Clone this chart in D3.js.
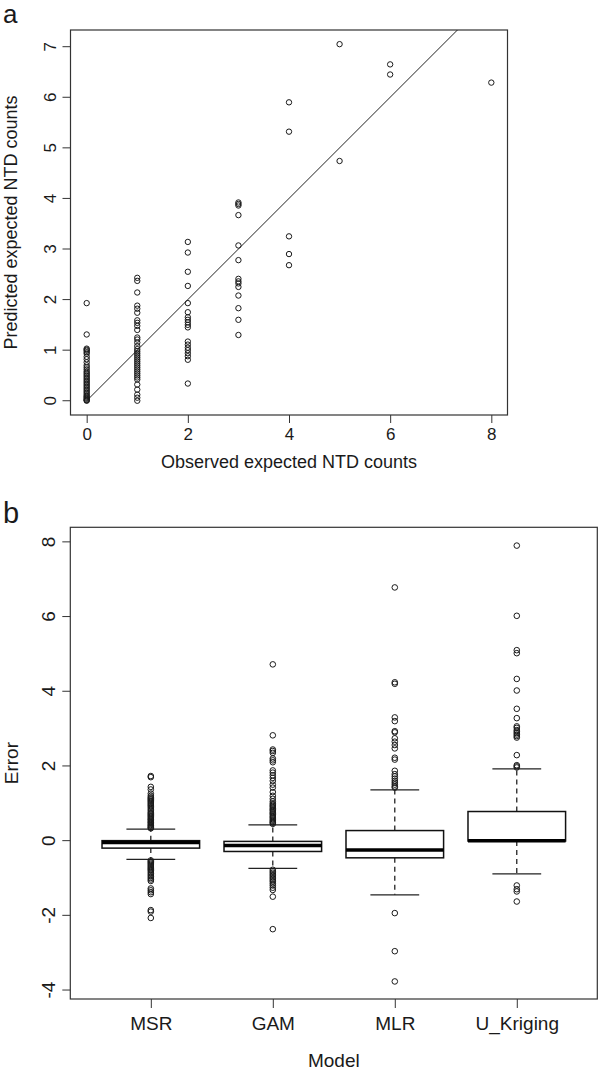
<!DOCTYPE html>
<html><head><meta charset="utf-8">
<script src="https://cdn.jsdelivr.net/npm/d3@7"></script>
<style>
html,body{margin:0;padding:0;background:#fff;}
svg{display:block;}
text{font-family:"Liberation Sans",Arial,Helvetica,sans-serif;fill:#1a1a1a;}
</style></head>
<body>
<svg id="chart" width="600" height="1073"></svg>
<script>
// ---------- Panel a data ----------
const obsX0 = [1.93,1.31,1.03,1.01,0.99,0.96,0.93,0.87,0.82,0.76,0.70,0.66,0.62,0.58,0.55,0.52,0.49,0.46,0.43,0.40,0.37,0.34,0.31,0.28,0.25,0.22,0.19,0.16,0.13,0.10,0.08,0.06,0.04,0.02,0.01,0.00];
const obsX1 = [2.43,2.37,2.14,1.88,1.82,1.74,1.59,1.54,1.48,1.40,1.25,1.21,1.15,1.08,1.02,0.98,0.94,0.90,0.86,0.82,0.78,0.74,0.70,0.66,0.62,0.58,0.54,0.50,0.46,0.42,0.32,0.22,0.12,0.06,0.00];
const obsX2 = [3.14,2.93,2.55,2.27,1.93,1.75,1.65,1.60,1.55,1.50,1.45,1.17,1.11,1.05,1.00,0.94,0.88,0.81,0.34];
const obsX3 = [3.92,3.89,3.86,3.67,3.07,2.78,2.41,2.36,2.32,2.25,2.08,1.83,1.60,1.30];
const obsX4 = [5.90,5.32,3.25,2.90,2.68];
const obsX5 = [7.05,4.74];
const obsX6 = [6.65,6.45];
const obsX8 = [6.29];
const observedGroups = [0,1,2,3,4,5,6,8];
const predictedGroups = [obsX0,obsX1,obsX2,obsX3,obsX4,obsX5,obsX6,obsX8];
const refLine = [[0,0],[8,8]];
const aXTicks = [0,2,4,6,8];
const aYTicks = [0,1,2,3,4,5,6,7];

// ---------- Panel b data ----------
const models = ["MSR","GAM","MLR","U_Kriging"];
const lowerWhisker = [-0.50,-0.74,-1.45,-0.89];
const quartile1   = [-0.20,-0.29,-0.46,-0.01];
const medians     = [-0.05,-0.13,-0.25, 0.00];
const quartile3   = [ 0.00,-0.02, 0.27, 0.78];
const upperWhisker= [ 0.31, 0.42, 1.36, 1.92];
const outMSR = [0.33,0.35,0.37,0.40,0.42,0.45,0.48,0.50,0.53,0.56,0.58,0.61,0.64,0.67,0.70,0.73,0.76,0.80,0.84,0.88,0.92,0.95,0.98,1.01,1.04,1.07,1.10,1.13,1.16,1.20,1.26,1.37,1.44,1.70,1.73,
  -0.53,-0.56,-0.59,-0.62,-0.65,-0.68,-0.71,-0.74,-0.77,-0.80,-0.84,-0.88,-0.92,-0.96,-1.00,-1.04,-1.08,-1.28,-1.33,-1.38,-1.43,-1.86,-1.90,-2.07];
const outGAM = [0.45,0.48,0.50,0.53,0.56,0.60,0.63,0.66,0.70,0.73,0.76,0.80,0.83,0.86,0.90,0.93,0.96,1.00,1.05,1.12,1.20,1.30,1.42,1.50,1.60,1.68,1.75,1.82,1.88,2.10,2.15,2.20,2.35,2.40,2.44,2.82,4.72,
  -0.78,-0.82,-0.86,-0.90,-0.94,-0.98,-1.02,-1.06,-1.10,-1.15,-1.20,-1.26,-1.32,-1.50,-2.37];
const outMLR = [1.42,1.45,1.50,1.55,1.60,1.66,1.72,1.78,1.87,2.17,2.22,2.47,2.56,2.65,2.74,2.90,2.93,3.20,3.30,4.20,4.24,6.78,-1.94,-2.96,-3.77];
const outUK  = [1.96,1.99,2.02,2.29,2.76,2.80,2.84,2.88,2.92,2.96,3.02,3.06,3.28,3.53,4.02,4.33,5.02,5.10,6.02,7.90,-1.20,-1.30,-1.36,-1.63];
const outliers = [outMSR,outGAM,outMLR,outUK];
const bYTicks = [-4,-2,0,2,4,6,8];

const svg = d3.select("#chart");
const frameColor = "#333";

// ================= Panel a =================
const aBox = {l:70.5, r:507.5, t:30, b:415};
const ax = d3.scaleLinear().domain([-0.32, 8.32]).range([aBox.l, aBox.r]);
const ay = d3.scaleLinear().domain([-0.282, 7.33]).range([aBox.b, aBox.t]);

svg.append("text").attr("x",3).attr("y",23).style("font-size","26px").text("a");

const ga = svg.append("g");
ga.append("defs").append("clipPath").attr("id","clipA").append("rect")
  .attr("x",aBox.l).attr("y",aBox.t).attr("width",aBox.r-aBox.l).attr("height",aBox.b-aBox.t);

// x axis
const axX = ga.append("g").attr("transform",`translate(0,${aBox.b})`)
  .call(d3.axisBottom(ax).tickValues(aXTicks).tickSize(8).tickPadding(5).tickFormat(d3.format("d")));
axX.select(".domain").remove();
axX.selectAll("line").attr("stroke",frameColor);
axX.selectAll("text").style("font-size","17px").attr("fill","#1a1a1a");
// y axis
const axY = ga.append("g").attr("transform",`translate(${aBox.l},0)`)
  .call(d3.axisLeft(ay).tickValues(aYTicks).tickSize(8).tickFormat(d3.format("d")));
axY.select(".domain").remove();
axY.selectAll("line").attr("stroke",frameColor);
axY.selectAll("text").attr("x",null).attr("dy",null)
  .style("font-size","17px").attr("text-anchor","middle")
  .attr("transform",d=>`translate(-20,${ay(d)}) rotate(-90)`).attr("y",0).attr("dy","0.35em");
axY.selectAll(".tick").attr("transform",null);
axY.selectAll(".tick line").attr("transform",d=>`translate(0,${ay(d)})`);

ga.append("rect").attr("x",aBox.l).attr("y",aBox.t).attr("width",aBox.r-aBox.l).attr("height",aBox.b-aBox.t)
  .attr("fill","none").attr("stroke",frameColor).attr("stroke-width",1.2);

// reference line
ga.append("path").datum(refLine).attr("clip-path","url(#clipA)")
  .attr("d",d3.line().x(d=>ax(d[0])).y(d=>ay(d[1])))
  .attr("fill","none").attr("stroke","#222").attr("stroke-width",1);

// points
const ptsA = [];
observedGroups.forEach((g,i)=>predictedGroups[i].forEach(v=>ptsA.push([g,v])));
ga.selectAll("circle.pa").data(ptsA).join("circle").attr("class","pa")
  .attr("cx",d=>ax(d[0])).attr("cy",d=>ay(d[1])).attr("r",2.7)
  .attr("fill","none").attr("stroke","#1a1a1a").attr("stroke-width",1);

ga.append("text").attr("x",(aBox.l+aBox.r)/2 + 0).attr("y",468).attr("text-anchor","middle")
  .style("font-size","18px").text("Observed expected NTD counts");
ga.append("text").attr("transform",`translate(17,${(aBox.t+aBox.b)/2 + 0}) rotate(-90)`).attr("text-anchor","middle")
  .style("font-size","18px").text("Predicted expected NTD counts");

// ================= Panel b =================
const bBox = {l:70.3, r:597.3, t:527.3, b:999};
const bx = d3.scaleLinear().domain([0.34, 4.66]).range([bBox.l, bBox.r]);
const by = d3.scaleLinear().domain([-4.24, 8.39]).range([bBox.b, bBox.t]);
const boxHalf = 0.4, stapleHalf = 0.2;

svg.append("text").attr("x",3).attr("y",523).style("font-size","29px").text("b");

const gb = svg.append("g");
const bxAxis = gb.append("g").attr("transform",`translate(0,${bBox.b})`)
  .call(d3.axisBottom(bx).tickValues([1,2,3,4]).tickSize(9).tickPadding(9).tickFormat((d,i)=>models[i]));
bxAxis.select(".domain").remove();
bxAxis.selectAll("line").attr("stroke",frameColor);
bxAxis.selectAll("text").style("font-size","19px").attr("fill","#1a1a1a");

const byAxis = gb.append("g").attr("transform",`translate(${bBox.l},0)`)
  .call(d3.axisLeft(by).tickValues(bYTicks).tickSize(8).tickFormat(d3.format("d")));
byAxis.select(".domain").remove();
byAxis.selectAll("line").attr("stroke",frameColor);
byAxis.selectAll(".tick").attr("transform",null);
byAxis.selectAll(".tick line").attr("transform",d=>`translate(0,${by(d)})`);
byAxis.selectAll("text").attr("x",null).attr("dy",null)
  .style("font-size","19px").attr("text-anchor","middle").text(d=>d<0?"-"+Math.abs(d):d)
  .attr("transform",d=>`translate(-22,${by(d)}) rotate(-90)`).attr("y",0).attr("dy","0.35em");

gb.append("rect").attr("x",bBox.l).attr("y",bBox.t).attr("width",bBox.r-bBox.l).attr("height",bBox.b-bBox.t)
  .attr("fill","none").attr("stroke",frameColor).attr("stroke-width",1.2);

const idx = d3.range(models.length);
// whiskers (dashed)
gb.selectAll("line.wu").data(idx).join("line").attr("class","wu")
  .attr("x1",i=>bx(i+1)).attr("x2",i=>bx(i+1)).attr("y1",i=>by(quartile3[i])).attr("y2",i=>by(upperWhisker[i]))
  .attr("stroke","#111").attr("stroke-width",1.2).attr("stroke-dasharray","5,4");
gb.selectAll("line.wl").data(idx).join("line").attr("class","wl")
  .attr("x1",i=>bx(i+1)).attr("x2",i=>bx(i+1)).attr("y1",i=>by(quartile1[i])).attr("y2",i=>by(lowerWhisker[i]))
  .attr("stroke","#111").attr("stroke-width",1.2).attr("stroke-dasharray","5,4");
// staples
gb.selectAll("line.su").data(idx).join("line").attr("class","su")
  .attr("x1",i=>bx(i+1-stapleHalf)).attr("x2",i=>bx(i+1+stapleHalf)).attr("y1",i=>by(upperWhisker[i])).attr("y2",i=>by(upperWhisker[i]))
  .attr("stroke","#222").attr("stroke-width",1.3);
gb.selectAll("line.sl").data(idx).join("line").attr("class","sl")
  .attr("x1",i=>bx(i+1-stapleHalf)).attr("x2",i=>bx(i+1+stapleHalf)).attr("y1",i=>by(lowerWhisker[i])).attr("y2",i=>by(lowerWhisker[i]))
  .attr("stroke","#222").attr("stroke-width",1.3);
// boxes
gb.selectAll("rect.bx").data(idx).join("rect").attr("class","bx")
  .attr("x",i=>bx(i+1-boxHalf)).attr("width",i=>bx(i+1+boxHalf)-bx(i+1-boxHalf))
  .attr("y",i=>by(quartile3[i])).attr("height",i=>Math.max(1,by(quartile1[i])-by(quartile3[i])))
  .attr("fill","#fff").attr("stroke","#111").attr("stroke-width",1.5);
// medians
gb.selectAll("line.md").data(idx).join("line").attr("class","md")
  .attr("x1",i=>bx(i+1-boxHalf)).attr("x2",i=>bx(i+1+boxHalf)).attr("y1",i=>by(medians[i])).attr("y2",i=>by(medians[i]))
  .attr("stroke","#000").attr("stroke-width",3.5);
// outliers
const ptsB = [];
outliers.forEach((arr,i)=>arr.forEach(v=>ptsB.push([i+1,v])));
gb.selectAll("circle.ob").data(ptsB).join("circle").attr("class","ob")
  .attr("cx",d=>bx(d[0])).attr("cy",d=>by(d[1])).attr("r",2.8)
  .attr("fill","none").attr("stroke","#1a1a1a").attr("stroke-width",1);

gb.append("text").attr("x",(bBox.l+bBox.r)/2).attr("y",1067).attr("text-anchor","middle")
  .style("font-size","19px").text("Model");
gb.append("text").attr("transform",`translate(18,${(bBox.t+bBox.b)/2}) rotate(-90)`).attr("text-anchor","middle")
  .style("font-size","19px").text("Error");
</script>
</body></html>
